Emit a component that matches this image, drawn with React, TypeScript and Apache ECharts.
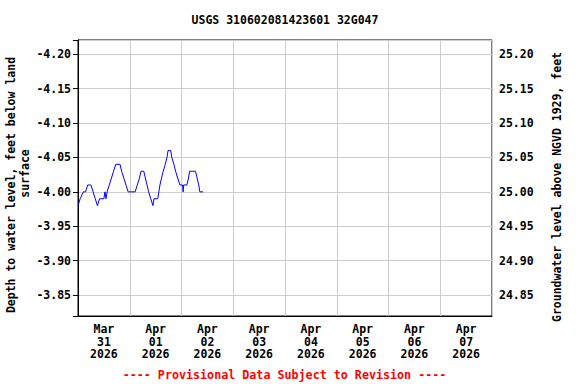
import React, { useEffect, useRef } from "react";
import * as echarts from "echarts";

const titleText = "USGS 310602081423601 32G047";
const footerText = "---- Provisional Data Subject to Revision ----";
const leftAxisName1 = "Depth to water level, feet below land";
const leftAxisName2 = "surface";
const rightAxisName = "Groundwater level above NGVD 1929, feet";

// x tick labels (one per day, placed at noon)
const dayLabels = [
  "Mar\n31\n2026",
  "Apr\n01\n2026",
  "Apr\n02\n2026",
  "Apr\n03\n2026",
  "Apr\n04\n2026",
  "Apr\n05\n2026",
  "Apr\n06\n2026",
  "Apr\n07\n2026",
];

// hours since 2026-03-31 00:00
const hoursSinceStart = [
  0, 1, 2.5, 3.5, 4.5, 6, 7, 8, 9, 10, 12, 12.5, 13, 13.5, 14.5, 15.5, 16.5,
  17.5, 19.5, 20.25, 21.25, 22.25, 23.25, 26.5, 27.5, 28.5, 29.25, 30.5, 31.25,
  32, 32.75, 33.75, 34.75, 35.25, 37, 37.5, 38, 38.75, 39.5, 40.5, 41.25, 41.75,
  43, 43.5, 44.5, 45.25, 46.25, 47.25, 48.5, 48.75, 49, 50.5, 51.25, 51.75,
  54.5, 55.25, 56, 56.5, 58,
];
// depth to water, feet below land surface
const depthValues = [
  -3.98, -3.99, -4.0, -4.0, -4.01, -4.01, -4.0, -3.99, -3.98, -3.99, -3.99,
  -4.0, -3.99, -4.0, -4.01, -4.02, -4.03, -4.04, -4.04, -4.03, -4.02, -4.01,
  -4.0, -4.0, -4.01, -4.02, -4.03, -4.03, -4.02, -4.01, -4.0, -3.99, -3.98,
  -3.99, -3.99, -4.0, -4.01, -4.02, -4.03, -4.04, -4.05, -4.06, -4.06, -4.05,
  -4.04, -4.03, -4.02, -4.01, -4.01, -4.0, -4.01, -4.01, -4.02, -4.03, -4.03,
  -4.02, -4.01, -4.0, -4.0,
];

const depthMin = -4.2208;
const depthMax = -3.8195;
const datumOffset = 21.0; // elevation = datumOffset - depth
const totalHours = 192;

const FONT = "'DejaVu Sans Mono', 'Liberation Mono', monospace";
const FS = 11.5;

export default function App() {
  const ref = useRef<HTMLDivElement>(null);
  useEffect(() => {
    document.body.style.margin = "0";
    if (!ref.current) return;
    const chart = echarts.init(ref.current, undefined, { renderer: "svg" });
    const isStep = (v: number) =>
      Math.abs(Math.round(v / 0.05) * 0.05 - v) < 1e-6;
    const labelStyle = {
      fontFamily: FONT,
      fontSize: FS,
      fontWeight: "bold" as const,
      color: "#000",
    };
    const textStyle = (text: string, fill = "#000") => ({
      text,
      fontFamily: FONT,
      fontSize: FS,
      fontWeight: "bold",
      fill,
      align: "center",
      verticalAlign: "middle",
    });
    chart.setOption({
      animation: false,
      backgroundColor: "#fff",
      grid: {
        left: 78,
        right: 84,
        top: 40,
        bottom: 68,
        show: true,
        borderColor: "#000",
        borderWidth: 1,
        backgroundColor: "#fff",
      },
      xAxis: [
        {
          type: "value",
          min: 0,
          max: totalHours,
          interval: 24,
          axisLine: { show: true, lineStyle: { color: "#000" } },
          axisTick: { show: false },
          axisLabel: { show: false },
          splitLine: { show: true, lineStyle: { color: "#cccccc", width: 1 } },
        },
        {
          type: "value",
          position: "bottom",
          min: 0,
          max: totalHours,
          interval: 12,
          axisLine: { show: false },
          axisTick: { show: false },
          splitLine: { show: false },
          axisLabel: {
            ...labelStyle,
            margin: 7,
            lineHeight: 12.5,
            showMinLabel: true,
            showMaxLabel: true,
            formatter: (v: number) => {
              if (Math.round(v) % 24 !== 12) return "";
              return dayLabels[Math.floor(v / 24)] ?? "";
            },
          },
        },
      ],
      yAxis: [
        {
          type: "value",
          inverse: true,
          min: depthMin,
          max: depthMax,
          splitNumber: 8,
          axisLine: { show: true, lineStyle: { color: "#000" } },
          axisTick: { show: false },
          splitLine: { show: true, lineStyle: { color: "#cccccc", width: 1 } },
          axisLabel: {
            ...labelStyle,
            margin: 7,
            formatter: (v: number) => (isStep(v) ? v.toFixed(2) : ""),
          },
        },
        {
          type: "value",
          position: "right",
          min: datumOffset - depthMax,
          max: datumOffset - depthMin,
          splitNumber: 8,
          axisLine: { show: true, lineStyle: { color: "#000" } },
          axisTick: {
            show: true,
            inside: true,
            length: 5,
            lineStyle: { color: "#000" },
          },
          splitLine: { show: false },
          axisLabel: {
            ...labelStyle,
            margin: 7,
            formatter: (v: number) => (isStep(v) ? v.toFixed(2) : ""),
          },
        },
      ],
      series: [
        {
          type: "line",
          xAxisIndex: 0,
          yAxisIndex: 0,
          showSymbol: false,
          symbol: "none",
          lineStyle: { color: "#0000ff", width: 1 },
          data: hoursSinceStart.map((h, i) => [h, depthValues[i]]),
        },
      ],
      graphic: [
        { type: "text", x: 285, y: 20, style: textStyle(titleText) },
        {
          type: "text",
          x: 11,
          y: 185,
          rotation: Math.PI / 2,
          style: textStyle(leftAxisName1),
        },
        {
          type: "text",
          x: 25,
          y: 173.5,
          rotation: Math.PI / 2,
          style: textStyle(leftAxisName2),
        },
        {
          type: "text",
          x: 557,
          y: 187,
          rotation: Math.PI / 2,
          style: textStyle(rightAxisName),
        },
        {
          type: "text",
          x: 284.5,
          y: 375,
          style: { ...textStyle(footerText, "#ff0000"), fontSize: 11.7 },
        },
      ],
    });
    return () => chart.dispose();
  }, []);
  return <div ref={ref} style={{ width: 576, height: 384 }} />;
}
